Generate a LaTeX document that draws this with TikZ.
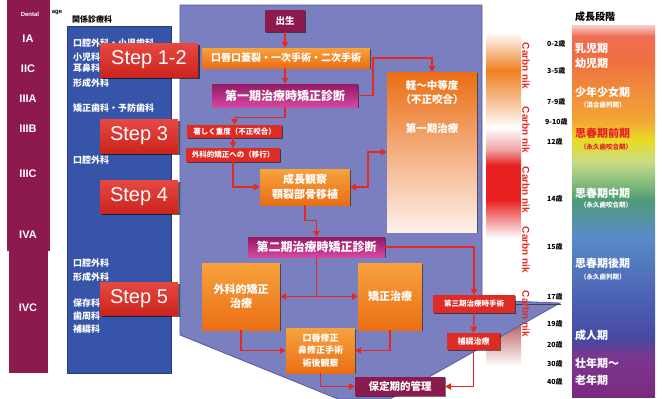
\documentclass[tikz,border=0pt]{standalone}
\usepackage{fontspec}
\setmainfont{Noto Sans CJK JP}
\newfontfamily\lat{Liberation Sans}
\usetikzlibrary{arrows.meta,shadows}
\definecolor{lav}{RGB}{121,127,191}
\definecolor{lavedge}{RGB}{86,92,156}
\definecolor{blueb}{RGB}{54,84,168}
\definecolor{mar}{RGB}{140,26,78}
\definecolor{orT}{RGB}{247,162,62}
\definecolor{orB}{RGB}{234,110,20}
\definecolor{mgT}{RGB}{150,24,100}
\definecolor{mgB}{RGB}{212,72,162}
\definecolor{redb}{RGB}{222,44,36}
\definecolor{stepred}{RGB}{226,40,32}
\definecolor{arrred}{RGB}{230,40,30}
\definecolor{pinkred}{RGB}{232,32,32}
\tikzset{
  shd/.style={drop shadow={shadow xshift=1.2pt,shadow yshift=-1.2pt,opacity=0.55,fill=black}},
  box/.style={inner sep=0pt, align=center, text=white, shd,
    font=\bfseries\fontsize{10}{13}\selectfont},
  obox/.style={box, top color=orT, bottom color=orB},
  mbox/.style={box, top color=mgT, bottom color=mgB},
  rbox/.style={box, fill=redb, font=\bfseries\fontsize{7.5}{8}\selectfont},
  kbox/.style={box, fill=mar},
  stepbox/.style={top color=stepred!85!white, bottom color=stepred!90!black, text=white,
    inner sep=0pt, font=\lat\fontsize{20}{22}\selectfont,
    drop shadow={shadow xshift=1.8pt,shadow yshift=-1.8pt,opacity=0.6,fill=black}},
  arr/.style={draw=arrred, line width=1.3pt, -{Triangle[length=6pt,width=6.5pt]}},
  darr/.style={draw=arrred, line width=1.3pt, {Triangle[length=6pt,width=6.5pt]}-{Triangle[length=6pt,width=6.5pt]}},
  ln/.style={draw=arrred, line width=1.3pt},
  btxt/.style={anchor=west, text=white, inner sep=0pt, font=\bfseries\fontsize{9}{10}\selectfont},
  rlab/.style={anchor=west, text=white, inner sep=0pt, font=\bfseries\fontsize{11}{12}\selectfont},
  rsm/.style={anchor=west, text=white, inner sep=0pt, font=\bfseries\fontsize{6.5}{8}\selectfont},
  agelab/.style={anchor=west, inner sep=0pt, font=\bfseries\fontsize{7}{8}\selectfont},
  dlab/.style={text=white, inner sep=0pt, font=\lat\bfseries\fontsize{11}{12}\selectfont},
  vtxt/.style={rotate=-90, text=arrred, inner sep=0pt, font=\lat\bfseries\fontsize{10}{12}\selectfont},
}
\begin{document}
\begin{tikzpicture}[x=1pt,y=-1pt]
\useasboundingbox (0,0) rectangle (662,399);
\fill[white] (0,0) rectangle (662,399);

% ---- left gradient bar ----
\shade[top color=white, bottom color={rgb,255:red,248;green,212;blue,184}] (486,32) rectangle (521,45);
\shade[top color={rgb,255:red,248;green,212;blue,184}, bottom color={rgb,255:red,240;green,128;blue,32}] (486,45) rectangle (521,70.3);
\shade[top color={rgb,255:red,240;green,128;blue,32}, bottom color={rgb,255:red,246;green,190;blue,144}] (486,70) rectangle (521,100.3);
\shade[top color={rgb,255:red,246;green,190;blue,144}, bottom color=white] (486,100) rectangle (521,128.3);
\shade[top color=white, bottom color={rgb,255:red,240;green,160;blue,160}] (486,128) rectangle (521,150.3);
\shade[top color={rgb,255:red,240;green,160;blue,160}, bottom color=pinkred] (486,150) rectangle (521,165.3);
\fill[pinkred] (486,165) rectangle (521,200.3);
\shade[top color=pinkred, bottom color=white] (486,200) rectangle (521,238);
\shade[top color={rgb,255:red,154;green,20;blue,20}, bottom color=white] (486,303) rectangle (521,366);

% ---- right growth column ----
\shade[top color={rgb,255:red,246;green,208;blue,208}, bottom color={rgb,255:red,239;green,110;blue,85}] (572,25) rectangle (655,36.3);
\shade[top color={rgb,255:red,239;green,110;blue,85}, bottom color={rgb,255:red,238;green,112;blue,64}] (572,36) rectangle (655,60.3);
\shade[top color={rgb,255:red,238;green,112;blue,64}, bottom color={rgb,255:red,240;green,144;blue,58}] (572,60) rectangle (655,95.3);
\shade[top color={rgb,255:red,240;green,144;blue,58}, bottom color={rgb,255:red,243;green,165;blue,53}] (572,95) rectangle (655,120.3);
\shade[top color={rgb,255:red,243;green,165;blue,53}, bottom color={rgb,255:red,230;green,220;blue,34}] (572,120) rectangle (655,140.3);
\shade[top color={rgb,255:red,230;green,220;blue,34}, bottom color={rgb,255:red,200;green,220;blue,136}] (572,140) rectangle (655,162.3);
\shade[top color={rgb,255:red,200;green,220;blue,136}, bottom color={rgb,255:red,142;green,192;blue,126}] (572,162) rectangle (655,180.3);
\shade[top color={rgb,255:red,142;green,192;blue,126}, bottom color={rgb,255:red,78;green,156;blue,118}] (572,180) rectangle (655,200.3);
\shade[top color={rgb,255:red,78;green,156;blue,118}, bottom color={rgb,255:red,90;green,140;blue,200}] (572,200) rectangle (655,235.3);
\shade[top color={rgb,255:red,90;green,140;blue,200}, bottom color={rgb,255:red,75;green,96;blue,178}] (572,235) rectangle (655,300.3);
\shade[top color={rgb,255:red,75;green,96;blue,178}, bottom color={rgb,255:red,72;green,72;blue,160}] (572,300) rectangle (655,340.3);
\shade[top color={rgb,255:red,72;green,72;blue,160}, bottom color={rgb,255:red,122;green,56;blue,144}] (572,340) rectangle (655,355.3);
\shade[top color={rgb,255:red,122;green,56;blue,144}, bottom color={rgb,255:red,122;green,42;blue,126}] (572,355) rectangle (655,397);

% ---- maroon dental age column ----
\fill[mar] (7,0) rectangle (50,251);
\fill[mar] (9,250) rectangle (48,373);
\node[text=white, inner sep=0pt, font=\lat\bfseries\fontsize{6}{7}\selectfont] (dtl) at (30,14) {Dental};
\node[inner sep=0pt, font=\lat\bfseries\fontsize{6}{7}\selectfont] (dtl2) at (57,13) {age};
\node[dlab] (ia) at (28,39) {IA};
\node[dlab] (iic) at (28,69) {IIC};
\node[dlab] (iiia) at (28,99) {IIIA};
\node[dlab] (iiib) at (28,129) {IIIB};
\node[dlab] (iiic) at (28,174) {IIIC};
\node[dlab] (iva) at (28,235) {IVA};
\node[dlab] (ivc) at (28,308) {IVC};

% ---- lavender panel ----
\filldraw[fill=lav, draw=lavedge, line width=0.8pt]
  (180,5) -- (482,5) -- (482,300) -- (560,303) -- (390,399) -- (338,399) -- (180,335) -- cycle;

% ---- blue departments box ----
\fill[blueb, draw=blueb!70!black, line width=0.6pt] (67,26) rectangle (171,373);
\node[anchor=west, inner sep=0pt, font=\bfseries\fontsize{8}{9}\selectfont] (hdr) at (72,19) {関係診療科};
\node[btxt] (d1) at (73,43) {口腔外科・小児歯科};
\node[btxt] (d2) at (73,57) {小児科};
\node[btxt] (d3) at (73,68) {耳鼻科};
\node[btxt] (d4) at (73,83) {形成外科};
\node[btxt] (d5) at (73,108) {矯正歯科・予防歯科};
\node[btxt] (d6) at (73,160) {口腔外科};
\node[btxt] (d7) at (73,263) {口腔外科};
\node[btxt] (d8) at (73,277) {形成外科};
\node[btxt] (d9) at (73,303) {保存科};
\node[btxt] (d10) at (73,316) {歯周科};
\node[btxt] (d11) at (73,329) {補綴科};

% ---- flow boxes ----
\node[kbox, minimum width=40pt, minimum height=22pt, font=\bfseries\fontsize{9.5}{10}\selectfont] (b1) at (285,21) {出生};
\node[obox, minimum width=168pt, minimum height=20pt, font=\bfseries\fontsize{10}{11}\selectfont] (b2) at (286,58) {口唇口蓋裂・一次手術・二次手術};
\node[mbox, minimum width=146pt, minimum height=23pt, font=\bfseries\fontsize{12}{13}\selectfont] (b3) at (285,95.5) {第一期治療時矯正診断};
\node[rbox, minimum width=95pt, minimum height=13pt] (b4) at (234.5,131.5) {著しく重度（不正咬合）};
\node[rbox, minimum width=94pt, minimum height=14pt] (b5) at (233,155) {外科的矯正への（移行）};
\node[obox, minimum width=90pt, minimum height=36pt, font=\bfseries\fontsize{11}{15}\selectfont] (b6) at (305,187) {成長観察\\顎裂部骨移植};
\node[box, top color=orB, middle color={rgb,255:red,246;green,184;blue,144}, bottom color={rgb,255:red,253;green,240;blue,236}, minimum width=90pt, minimum height=160pt] (b7) at (432,152) {};
\node[text=white, align=center, inner sep=0pt, font=\bfseries\fontsize{10.5}{14}\selectfont] (b7a) at (432,92) {軽〜中等度\\（不正咬合）};
\node[text=white, inner sep=0pt, font=\bfseries\fontsize{10.5}{12}\selectfont] (b7b) at (432,128) {第一期治療};
\node[mbox, minimum width=137pt, minimum height=20pt, font=\bfseries\fontsize{12}{13}\selectfont] (b8) at (316.5,247) {第二期治療時矯正診断};
\node[obox, minimum width=78pt, minimum height=67pt, font=\bfseries\fontsize{11}{14}\selectfont] (b9) at (241,296.5) {外科的矯正\\治療};
\node[obox, minimum width=64pt, minimum height=67pt, font=\bfseries\fontsize{11}{12}\selectfont] (b10) at (390,296.5) {矯正治療};
\node[obox, minimum width=69pt, minimum height=45pt, font=\bfseries\fontsize{9}{12.5}\selectfont] (b11) at (320.5,350.5) {口唇修正\\鼻修正手術\\術後観察};
\node[kbox, minimum width=90pt, minimum height=19pt, font=\bfseries\fontsize{10.5}{12}\selectfont] (b12) at (400,386.5) {保定期的管理};
\node[rbox, minimum width=82pt, minimum height=18pt, font=\bfseries\fontsize{7.5}{9}\selectfont] (b13) at (474,304) {第三期治療時手術};
\node[rbox, minimum width=53pt, minimum height=17pt, font=\bfseries\fontsize{8}{9}\selectfont] (b14) at (473.5,341.5) {補綴治療};

% ---- connectors ----
\draw[arr] (b1.south) -- (b1.south |- b2.north);
\draw[arr] (b3.north |- b2.south) -- (b3.north);
\draw[arr] (b3.east) -| (373,58) -| (b7.north);
\draw[arr] (b3.south) -- ++(0,10) -| (b4.north);
\draw[arr] (b5.north |- b4.south) -- (b5.north);
\draw[arr] (b5.south) |- (b6.west);
\draw[darr] (b6.east) -| (368,152) -- (b7.west);
\draw[arr] (b6.south) -- ++(0,15) -| (b8.north);
\draw[arr] (b8.east) -| (b13.north);
\draw[ln] (b8.south) -- (b8.south |- b9.east);
\draw[darr] (b9.east) -- (b10.west);
\draw[arr] (b9.south) |- (b11.west);
\draw[arr] (b10.south) |- (b11.east);
\draw[arr] (b11.south) |- (b12.west);
\draw[arr] (b13.south) -- (b14.north);
\draw[arr] (b14.south) |- (b12.east);
\coordinate (c17) at (561,304);
\draw[black!75, line width=0.8pt] (b13.east) -- (c17);

% ---- vertical red text ----
\node[vtxt] (v1) at (526,66) {Carbn nik};
\node[vtxt] (v2) at (526,130) {Carbn nik};
\node[vtxt] (v3) at (526,190) {Carbn nik};
\node[vtxt] (v4) at (526,250) {Carbn nik};
\node[vtxt] (v5) at (526,314) {Carbn nik};

% ---- ages ----
\node[agelab] (g1) at (547,44) {0-2歳};
\node[agelab] (g2) at (547,71) {3-5歳};
\node[agelab] (g3) at (547,102) {7-9歳};
\node[agelab] (g4) at (545,122) {9-10歳};
\node[agelab] (g5) at (547,142) {12歳};
\node[agelab] (g6) at (547,199) {14歳};
\node[agelab] (g7) at (547,247) {15歳};
\node[agelab] (g8) at (547,297) {17歳};
\node[agelab] (g9) at (547,324) {19歳};
\node[agelab] (g10) at (547,345) {20歳};
\node[agelab] (g11) at (547,364) {30歳};
\node[agelab] (g12) at (547,382) {40歳};

% ---- growth stages ----
\node[anchor=west, inner sep=0pt, font=\bfseries\fontsize{10}{12}\selectfont] (hdr2) at (575,17) {成長段階};
\node[rlab] (s1) at (575,48) {乳児期};
\node[rlab] (s2) at (575,63) {幼児期};
\node[rlab] (s3) at (575,92) {少年少女期};
\node[rsm] (s3b) at (580,105) {（混合歯列期）};
\node[rlab, text=pinkred] (s4) at (575,133) {思春期前期};
\node[rsm, text=pinkred] (s4b) at (580,147) {（永久歯咬合期）};
\node[rlab] (s5) at (575,193) {思春期中期};
\node[rsm] (s5b) at (580,205) {（永久歯咬合期）};
\node[rlab] (s6) at (575,263) {思春期後期};
\node[rsm] (s6b) at (580,277) {（永久歯列期）};
\node[rlab] (s7) at (575,335) {成人期};
\node[rlab] (s8) at (575,363) {壮年期〜};
\node[rlab] (s9) at (575,380) {老年期};

% ---- step labels ----
\node[stepbox, minimum width=98pt, minimum height=34pt] (st1) at (149,60) {Step 1-2};
\node[stepbox, minimum width=78pt, minimum height=34pt] (st3) at (139,136) {Step 3};
\node[stepbox, minimum width=78pt, minimum height=33pt] (st4) at (139,196.5) {Step 4};
\node[stepbox, minimum width=78pt, minimum height=33pt] (st5) at (139,298.5) {Step 5};
\end{tikzpicture}
\end{document}
